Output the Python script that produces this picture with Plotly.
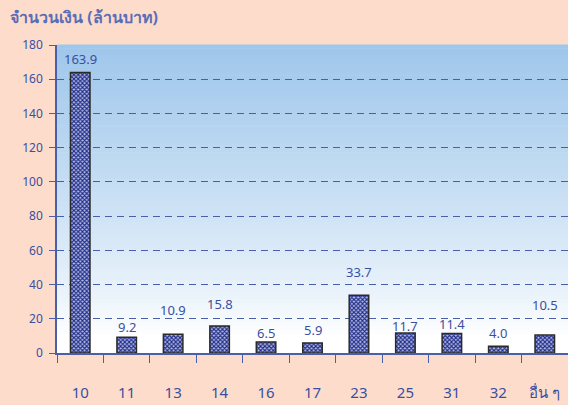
import plotly.graph_objects as go

# data
categories = ["10", "11", "13", "14", "16", "17", "23", "25", "31", "32", "อื่น ๆ"]
amounts = [163.9, 9.2, 10.9, 15.8, 6.5, 5.9, 33.7, 11.7, 11.4, 4.0, 10.5]
y_ticks = [0, 20, 40, 60, 80, 100, 120, 140, 160, 180]

# how far (px) each value label sits above its bar, as in the original
label_lift = [14, 10, 24, 22, 9, 13, 23, 7, 9, 13, 30]

text_blue = "#3b4fa0"
line_blue = "#4a5fa8"
paper = "#fddccc"

fig = go.Figure()

fig.add_trace(go.Bar(
    x=categories,
    y=amounts,
    width=0.42,
    marker=dict(
        color="#9aa2d4",
        line=dict(color="#2a2a2a", width=1.5),
        pattern=dict(shape="x", fgcolor="#1f2d8a", bgcolor="#b8bee3",
                     size=3, solidity=0.6, fillmode="replace"),
    ),
    hoverinfo="x+y",
))

annotations = []
# category axis: annotations are placed by category index
for i, (val, lift) in enumerate(zip(amounts, label_lift)):
    annotations.append(dict(
        x=i, y=val, text="%.1f" % val, showarrow=False,
        yanchor="middle", yshift=lift,
        font=dict(size=13, color=text_blue),
    ))

annotations.append(dict(
    text="<b>จำนวนเงิน (ล้านบาท)</b>", xref="paper", yref="paper",
    x=-49 / 511, y=1 + 28 / 308, xanchor="left", yanchor="middle",
    showarrow=False, font=dict(size=16, color="#5a6db5"),
))

# vertical gradient behind the grid: blue at the top fading to white
top = (158, 198, 235)
bottom = (255, 255, 255)
n = 80
shapes = []
for i in range(n):
    y0 = i / n
    y1 = (i + 1) / n
    t = min(1.0, max(0.0, (y0 - 0.05) / 0.95))
    t = t ** 0.8
    c = tuple(round(bottom[k] + (top[k] - bottom[k]) * t) for k in range(3))
    shapes.append(dict(type="rect", xref="paper", yref="paper",
                       x0=0, x1=1, y0=y0, y1=y1 + 0.002,
                       fillcolor="rgb(%d,%d,%d)" % c, line=dict(width=0),
                       layer="below"))

fig.update_layout(
    width=568, height=405,
    paper_bgcolor=paper,
    plot_bgcolor="white",
    margin=dict(l=57, r=0, t=45, b=52),
    showlegend=False,
    shapes=shapes,
    annotations=annotations,
    font=dict(family="Noto Sans", color=text_blue),
)

fig.update_xaxes(
    type="category",
    range=[-0.5, len(categories) - 0.5],
    tickson="boundaries",
    ticks="outside", ticklen=8, tickcolor=line_blue, tickwidth=1,
    showline=True, linecolor=line_blue, linewidth=1.5,
    showgrid=False,
    tickfont=dict(size=15, color=text_blue),
    tickangle=0,
    ticklabelstandoff=25,
)

fig.update_yaxes(
    range=[0, 180],
    tickvals=y_ticks,
    ticks="outside", ticklen=6, tickcolor=line_blue, tickwidth=1,
    showline=True, linecolor=line_blue, linewidth=1.5,
    showgrid=True, gridcolor=line_blue, griddash="7px,5px", gridwidth=1,
    zeroline=False,
    tickfont=dict(size=12, color=text_blue),
    ticklabelstandoff=4,
)

# the page body has a default 8px margin; drop it so the chart sits at 0,0
fig.write_html("out.html", config={"displayModeBar": False},
               post_script="document.body.style.margin='0';")
